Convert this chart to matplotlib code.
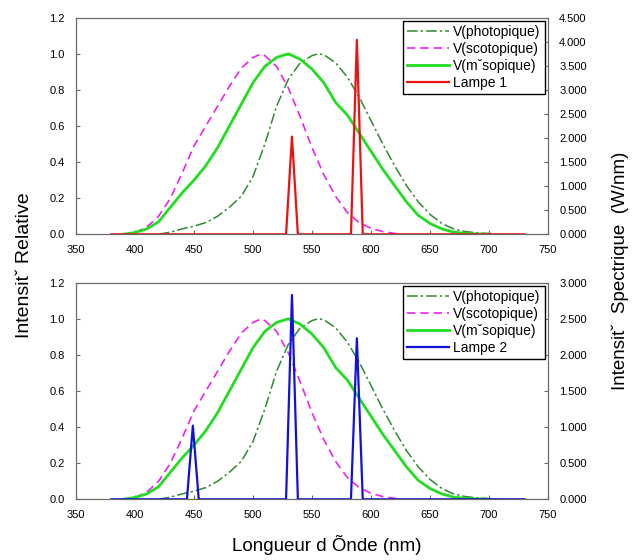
import matplotlib
matplotlib.use('Agg')
import matplotlib.pyplot as plt
from matplotlib.ticker import FormatStrFormatter

plt.rcParams['font.family'] = ['Liberation Sans', 'DejaVu Sans']

# courbes de sensibilite
wl_phot = [420, 430, 440, 450, 460, 470, 480, 490, 500, 510, 520, 530, 540, 550, 555,
           560, 570, 580, 590, 600, 610, 620, 630, 640, 650, 660, 670, 680, 690, 700, 710]
v_phot = [0.0, 0.012, 0.03, 0.045, 0.065, 0.10, 0.15, 0.21, 0.32, 0.50, 0.71, 0.86, 0.95, 0.99, 1.0,
          0.995, 0.95, 0.87, 0.76, 0.63, 0.50, 0.38, 0.27, 0.18, 0.11, 0.06, 0.03, 0.015, 0.008, 0.004, 0.0]

wl_scot = [400, 410, 420, 430, 440, 450, 460, 470, 480, 490, 500, 507, 510, 520,
           530, 540, 550, 560, 570, 580, 590, 600, 610, 620, 625]
v_scot = [0.01, 0.04, 0.10, 0.20, 0.34, 0.49, 0.60, 0.71, 0.82, 0.92, 0.98, 1.0, 0.99, 0.93,
          0.81, 0.65, 0.48, 0.33, 0.21, 0.12, 0.065, 0.033, 0.015, 0.005, 0.0]

wl_meso = [390, 400, 410, 420, 430, 440, 450, 460, 470, 480, 490, 500, 510, 520, 530, 540,
           550, 560, 570, 580, 590, 600, 610, 620, 630, 640, 650, 660, 670, 680, 690, 700]
v_meso = [0.0, 0.01, 0.03, 0.07, 0.15, 0.23, 0.30, 0.38, 0.48, 0.60, 0.72, 0.84, 0.93, 0.98, 1.0, 0.97,
          0.915, 0.84, 0.73, 0.66, 0.56, 0.46, 0.36, 0.27, 0.18, 0.105, 0.06, 0.03, 0.012, 0.005, 0.002, 0.0]

# spectres des lampes (W/nm)
wl_l1 = [380, 528, 533, 538, 583, 588, 593, 730]
p_l1 = [0, 0, 2.03, 0, 0, 4.04, 0, 0]
wl_l2 = [380, 444, 449, 454, 528, 533, 538, 583, 588, 593, 730]
p_l2 = [0, 0, 1.02, 0, 0, 2.83, 0, 0, 2.23, 0, 0]

spine_col = '#6a6a6a'

fig = plt.figure(figsize=(6.34, 5.6), dpi=100)
ax1 = fig.add_axes([0.1199, 0.5816, 0.7445, 0.3868])
ax2 = fig.add_axes([0.1199, 0.1084, 0.7445, 0.3868])


def trace(ax, wl_l, p_l, lamp_col, lamp_name, ymax_r):
    l1, = ax.plot(wl_phot, v_phot, color='#2f8a2f', lw=1.1, ls=(0, (7, 2, 1.5, 2)), label='V(photopique)')
    l2, = ax.plot(wl_scot, v_scot, color='#ee22ee', lw=1.2, ls=(0, (5, 3)), label='V(scotopique)')
    l3, = ax.plot(wl_meso, v_meso, color='#22dd22', lw=2.0, label='V(m\u02c7sopique)')
    ax.set_xlim(350, 750)
    ax.set_ylim(0, 1.2)
    ax.set_xticks(range(350, 751, 50))
    ax.set_yticks([0, 0.2, 0.4, 0.6, 0.8, 1.0, 1.2])
    ax.yaxis.set_major_formatter(FormatStrFormatter('%.1f'))
    ax.tick_params(direction='in', length=3, labelsize=8, color=spine_col, pad=8)
    for s in ax.spines.values():
        s.set_color(spine_col)
    axr = ax.twinx()
    l4, = axr.plot(wl_l, p_l, color=lamp_col, lw=1.6, label=lamp_name)
    axr.set_ylim(0, ymax_r)
    axr.set_yticks([i * 0.5 for i in range(int(ymax_r / 0.5) + 1)])
    axr.yaxis.set_major_formatter(FormatStrFormatter('%.3f'))
    axr.tick_params(direction='in', length=3, labelsize=8, color=spine_col, pad=8)
    for s in axr.spines.values():
        s.set_color(spine_col)
    leg = axr.legend([l1, l2, l3, l4], [h.get_label() for h in [l1, l2, l3, l4]],
                     loc='upper right', fontsize=10, handlelength=3.0, handletextpad=0.3,
                     borderpad=0.3, labelspacing=0.2, fancybox=False, framealpha=1,
                     edgecolor='black', borderaxespad=0.25)
    leg.get_frame().set_linewidth(1.0)


trace(ax1, wl_l1, p_l1, '#ee1111', 'Lampe 1', 4.5)
trace(ax2, wl_l2, p_l2, '#1111dd', 'Lampe 2', 3.0)

fig.text(0.039, 0.527, 'Intensit\u02c7 Relative', rotation=90, ha='center', va='center', fontsize=14)
fig.text(0.978, 0.516, 'Intensit\u02c7  Spectrique  (W/nm)', rotation=90, ha='center', va='center', fontsize=13.5)
fig.text(0.515, 0.027, 'Longueur d \u00d5nde (nm)', ha='center', va='center', fontsize=13.5)

fig.savefig('out.png', dpi=100)
